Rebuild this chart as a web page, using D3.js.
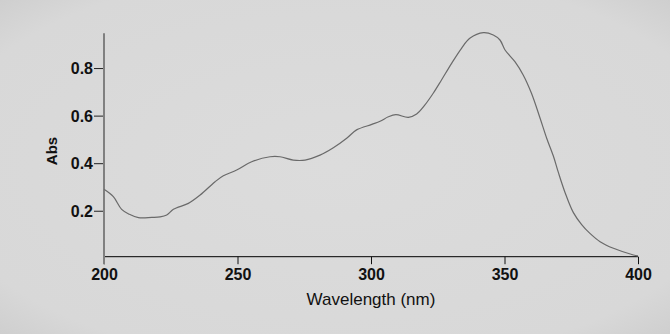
<!DOCTYPE html>
<html><head><meta charset="utf-8">
<script src="https://cdn.jsdelivr.net/npm/d3@7"></script>
<style>html,body{margin:0;padding:0;background:#d6d6d6;}svg{display:block;}</style>
</head><body>
<script>
const wavelength = [200,203.5,206.6,209.5,212.9,217.9,221,223.5,226,231.6,236,241.6,244.7,249.7,255.3,262.2,265.9,270.9,275.3,280.9,285.9,290.9,294.6,300.3,303.4,306.5,309.3,314,317.1,320.2,323.3,326.4,330.2,333.9,337,342.1,345.8,348.3,350.2,353.9,357,360.1,363.3,365.8,368.3,370.2,372.7,375.8,378.9,381.9,385.8,390.8,398.3,400];
const absorbance = [0.290,0.259,0.206,0.185,0.171,0.172,0.174,0.182,0.206,0.231,0.266,0.322,0.347,0.371,0.406,0.427,0.427,0.413,0.413,0.434,0.465,0.505,0.540,0.563,0.576,0.595,0.604,0.593,0.607,0.645,0.694,0.750,0.820,0.883,0.925,0.949,0.939,0.918,0.876,0.827,0.771,0.694,0.590,0.505,0.430,0.360,0.276,0.192,0.142,0.106,0.070,0.042,0.014,0.010];
const xTicks = [200,250,300,350,400];
const yTicks = [0.2,0.4,0.6,0.8];
const xTitle = "Wavelength (nm)";
const yTitle = "Abs";

const W = 670, H = 334;
const svg = d3.select("body").append("svg").attr("width", W).attr("height", H);

const defs = svg.append("defs");
const rg = defs.append("radialGradient").attr("id","bg").attr("cx","50%").attr("cy","50%").attr("r","75%");
rg.append("stop").attr("offset","0%").attr("stop-color","#dcdcdc");
rg.append("stop").attr("offset","80%").attr("stop-color","#d8d8d8");
rg.append("stop").attr("offset","100%").attr("stop-color","#cbcbcb");
svg.append("rect").attr("width",W).attr("height",H).attr("fill","url(#bg)");

const x = d3.scaleLinear().domain([200,400]).range([104,638]);
const y = d3.scaleLinear().domain([0,1]).range([258.3,20.5]);
const axisY = 256.7;
const font = "'Liberation Sans', Arial, sans-serif";

// x axis
const gx = svg.append("g").attr("transform", `translate(0,${axisY})`)
  .call(d3.axisBottom(x).tickValues(xTicks).tickFormat(d3.format("d")).tickSize(7.5).tickPadding(4));
gx.select(".domain").attr("stroke","#000").attr("stroke-width",1).attr("d", `M${x(200)},0H${x(400)}`);
gx.selectAll(".tick line").attr("stroke","#111");
gx.selectAll(".tick text").attr("font-family",font).attr("font-size",16).attr("font-weight","bold").attr("fill","#111").attr("dy","0.72em");

// y axis
const gy = svg.append("g").attr("transform", `translate(104,0)`)
  .call(d3.axisLeft(y).tickValues(yTicks).tickFormat(d3.format(".1f")).tickSize(10).tickPadding(1));
gy.select(".domain").remove();
gy.selectAll(".tick line").attr("stroke","#222");
gy.selectAll(".tick text").attr("font-family",font).attr("font-size",16).attr("font-weight","bold").attr("fill","#111").attr("dy","0.36em");
svg.append("line").attr("x1",104).attr("x2",104).attr("y1",y(0.946)).attr("y2",axisY+7.5)
  .attr("stroke","#808080").attr("stroke-width",2);

// curve
const line = d3.line().x((d,i)=>x(wavelength[i])).y(d=>y(d)).curve(d3.curveCatmullRom.alpha(0.5));
svg.append("path").datum(absorbance).attr("d", line).attr("fill","none")
  .attr("stroke","#6a6a6a").attr("stroke-width",1.2);

// titles
svg.append("text").attr("x", x(300)).attr("y", 305).attr("text-anchor","middle")
  .attr("font-family",font).attr("font-size",17).attr("fill","#111").text(xTitle);
svg.append("text").attr("transform","translate(56.5,151) rotate(-90)").attr("text-anchor","middle")
  .attr("font-family",font).attr("font-size",15).attr("font-weight","bold").attr("fill","#111").text(yTitle);
</script>
</body></html>
